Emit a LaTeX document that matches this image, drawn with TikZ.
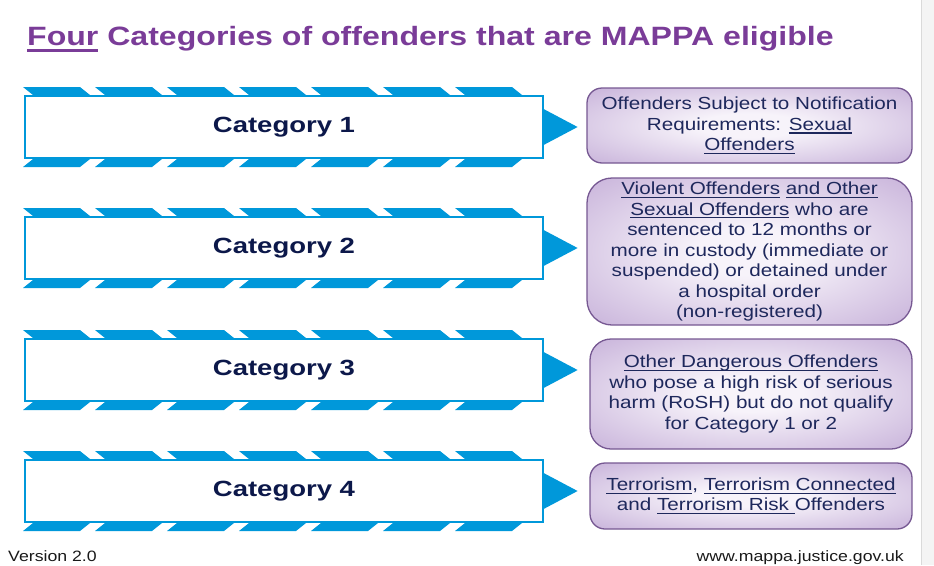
\documentclass[tikz,border=0pt]{standalone}
\usepackage{fontspec}
\setmainfont{Liberation Sans}[FakeStretch=1.18]
\newfontfamily\titlefont{Liberation Sans}[FakeStretch=1.21]
\newfontfamily\catfont{Liberation Sans}[FakeStretch=1.25]
\definecolor{titlepurple}{RGB}{122,60,152}
\definecolor{catblue}{RGB}{0,152,218}
\definecolor{catnavy}{RGB}{12,24,74}
\definecolor{boxnavy}{RGB}{30,40,92}
\definecolor{boxline}{RGB}{118,88,146}
\definecolor{lilac}{RGB}{176,146,202}
\definecolor{glowin}{RGB}{247,243,250}
\definecolor{pagegrey}{RGB}{244,244,244}
\definecolor{greyline}{RGB}{218,218,218}
\pgfdeclareradialshading{lilacglow}{\pgfpoint{0bp}{0bp}}{color(0bp)=(glowin); color(8bp)=(glowin); color(50bp)=(lilac); color(72bp)=(lilac)}
\newcommand\titleul[1]{\setbox0\hbox{#1}\rlap{\rule[-7pt]{\wd0}{2.8pt}}\box0\relax}
\newcommand\ulword[1]{\setbox0\hbox{#1}\rlap{\rule[-3.4pt]{\wd0}{1.2pt}}\box0\relax}
\begin{document}
\begin{tikzpicture}[x=1pt,y=-1pt,
    catbox/.style={draw=catblue, line width=1.2pt, fill=white, minimum width=518pt,
        minimum height=62pt, inner sep=0pt, text=catnavy,
        font=\catfont\bfseries\fontsize{22}{26}\selectfont},
    infobox/.style={draw=boxline, line width=1.3pt, shading=lilacglow, align=center,
        inner sep=0pt, text=boxnavy, font=\fontsize{17.5}{20.5}\selectfont,
        execute at begin node={\rule{0pt}{21pt}}},
    footnote/.style={inner sep=0pt, text=black!90, font=\fontsize{15}{18}\selectfont}]
    \useasboundingbox (0,0) rectangle (934,565);
    % Page edge
    \fill[pagegrey] (921,0) rectangle (934,565);
    \draw[greyline, line width=1pt] (921,0) -- (921,565);
    % Title
    \node[anchor=base west, inner sep=0pt, text=titlepurple,
        font=\titlefont\bfseries\fontsize{26.5}{30}\selectfont] (title) at (27,45)
        {\titleul{Four} Categories of offenders that are MAPPA eligible};
    % Categories with striped bands and pointers
    \foreach \c/\yc in {1/127,2/248,3/370,4/491}{
        \foreach \j in {0,...,6}{
            \fill[catblue] ({23+72*\j},\yc-40) -- ++(57,0) -- ++(10,8) -- ++(-57,0) -- cycle;
            \fill[catblue] ({23+72*\j},\yc+40) -- ++(57,0) -- ++(10,-8) -- ++(-57,0) -- cycle;
        }
        \node[catbox] (cat\c) at (284,\yc) {Category \c};
        \fill[catblue] (cat\c.east) ++(0,-18) -- ++(34,18) -- ++(-34,18) -- cycle;
    }
    % Descriptions
    \node[infobox, rounded corners=15pt, minimum width=325pt, minimum height=75pt] (box1) at (749.5,125.5)
        {Offenders Subject to Notification\\ Requirements: \ulword{Sexual}\\ \ulword{Offenders}};
    \node[infobox, rounded corners=25pt, minimum width=325pt, minimum height=147pt] (box2) at (749.5,251.5)
        {\ulword{Violent Offenders} \ulword{and Other}\\ \ulword{Sexual Offenders} who are\\
         sentenced to 12 months or\\ more in custody (immediate or\\ suspended) or detained under\\
         a hospital order\\ (non-registered)};
    \node[infobox, rounded corners=21pt, minimum width=322pt, minimum height=110pt] (box3) at (751,394)
        {\ulword{Other Dangerous Offenders}\\ who pose a high risk of serious\\
         harm (RoSH) but do not qualify\\ for Category 1 or 2};
    \node[infobox, rounded corners=15pt, minimum width=322pt, minimum height=66pt] (box4) at (751,496)
        {\ulword{Terrorism}, \ulword{Terrorism Connected}\\ and \ulword{Terrorism Risk\ }Offenders};
    % Footer
    \node[footnote, anchor=base west] (version) at (8,561) {Version 2.0};
    \node[footnote, anchor=base east] (website) at (904,561) {www.mappa.justice.gov.uk};
\end{tikzpicture}
\end{document}
